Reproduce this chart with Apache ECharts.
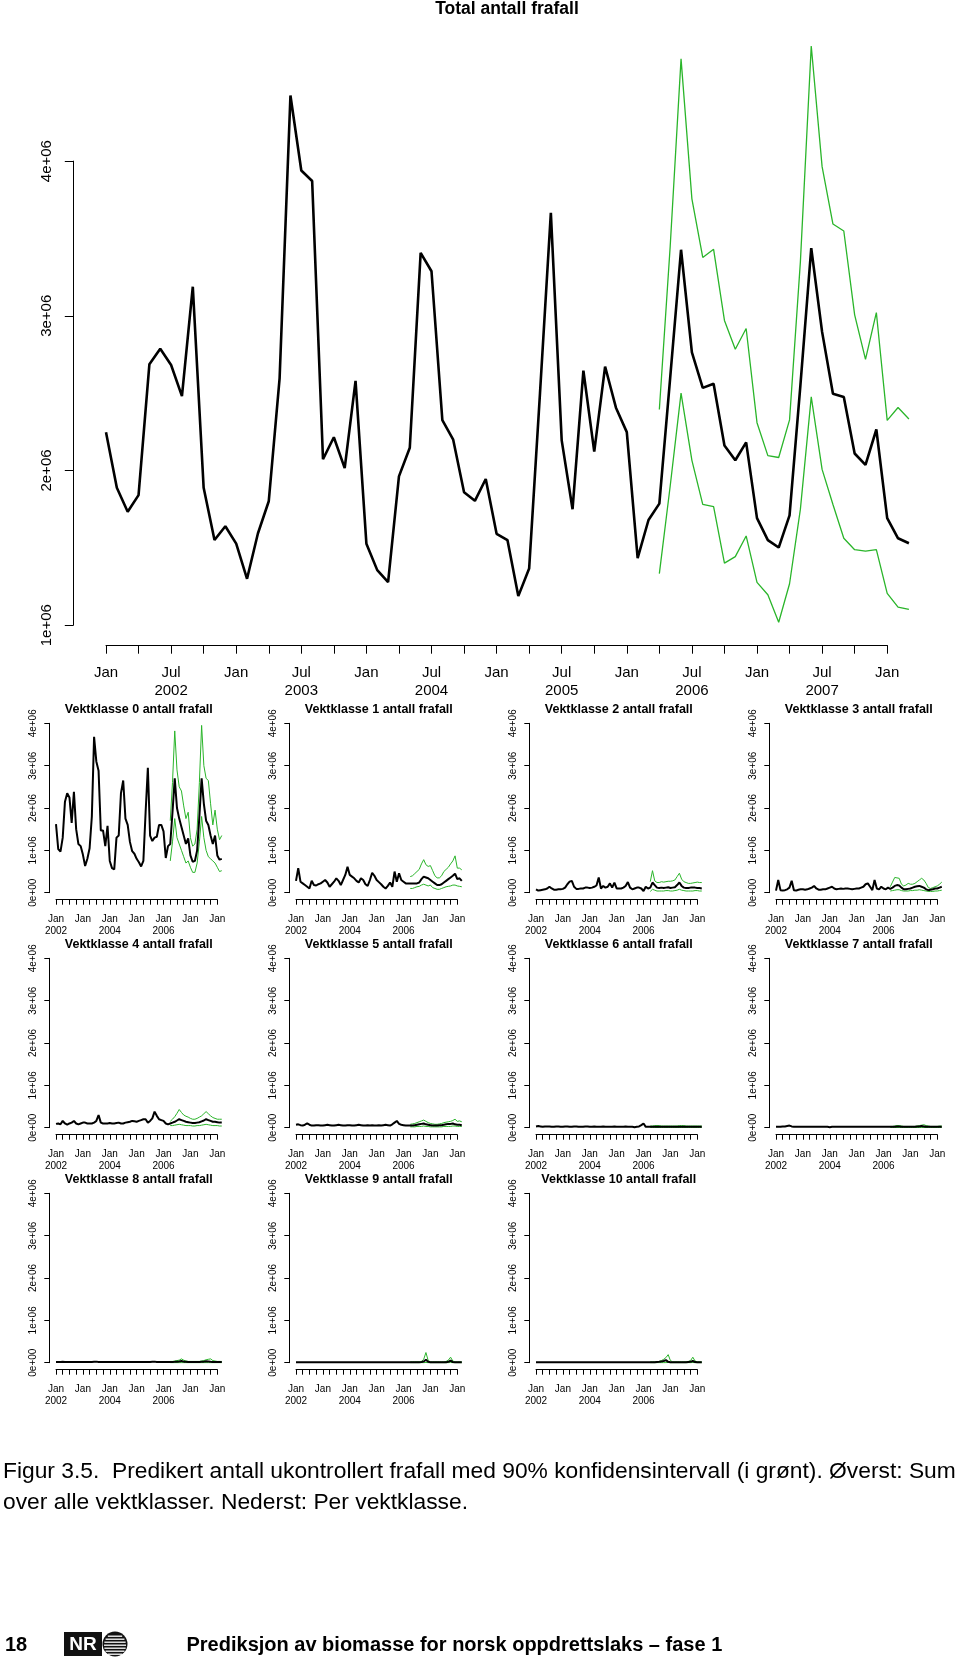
<!DOCTYPE html>
<html><head><meta charset="utf-8">
<script src="https://cdn.jsdelivr.net/npm/echarts@6/dist/echarts.min.js"></script>
<style>html,body{margin:0;padding:0;background:#fff}#c{width:960px;height:1661px}</style>
</head><body><div id="c"></div>
<script>
// ---------- time base: monthly, Jan 2002 .. Mar 2008 (index 0..74) ----------
const startYear = 2002;
const forecastStart = 51; // Apr 2006
const lastMonth = 74;     // Mar 2008
const axisLastMonth = 72; // Jan 2008 (last tick)

// ---------- tick labels ----------
const mainXLabels = ['Jan','Jul\n2002','Jan','Jul\n2003','Jan','Jul\n2004','Jan','Jul\n2005','Jan','Jul\n2006','Jan','Jul\n2007','Jan'];
const mainYLabels = ['1e+06','2e+06','3e+06','4e+06'];
const panelXLabels = ['Jan\n2002','Jan','Jan\n2004','Jan','Jan\n2006','Jan','Jan'];
const panelYLabels = ['0e+00','1e+06','2e+06','3e+06','4e+06'];

// ---------- total (millions) ----------
const totalMean = [2.247,1.888,1.733,1.841,2.687,2.787,2.682,2.481,3.188,1.888,1.551,1.640,
 1.527,1.300,1.593,1.801,2.595,4.424,3.939,3.871,2.073,2.215,2.015,2.579,
 1.527,1.356,1.279,1.962,2.147,3.407,3.288,2.326,2.199,1.859,1.804,1.945,
 1.591,1.550,1.188,1.366,2.50,3.665,2.195,1.750,2.645,2.122,2.672,2.406,
 2.248,1.433,1.680,1.786,2.60,3.427,2.763,2.534,2.561,2.161,2.066,2.182,
 1.692,1.550,1.502,1.710,2.55,3.437,2.896,2.496,2.475,2.110,2.036,2.265,
 1.692,1.562,1.530];
const totalUpper = [2.394,3.45,4.661,3.756,3.377,3.430,2.970,2.784,2.918,2.309,2.096,2.084,2.327,3.35,4.744,3.964,3.593,3.548,3.006,2.718,3.021,2.324,2.407,2.333];
const totalLower = [1.333,1.9,2.50,2.066,1.781,1.766,1.401,1.443,1.577,1.277,1.197,1.019,1.268,1.75,2.476,2.007,1.78,1.562,1.488,1.479,1.488,1.206,1.117,1.102];

// ---------- per weight class (millions) ----------
const vk0Mean = [1.62,1.03,0.97,1.3,2.15,2.35,2.25,1.65,2.38,1.5,1.15,1.1,
 0.9,0.63,0.8,1.05,1.8,3.68,3.1,2.88,1.47,1.47,1.1,1.58,
 0.75,0.58,0.55,1.3,1.35,2.35,2.65,1.75,1.6,1.2,0.98,0.92,
 0.8,0.72,0.62,0.75,1.9,2.95,1.35,1.22,1.3,1.32,1.6,1.6,
 1.45,0.82,1.1,1.15,1.9,2.7,2.0,1.75,1.55,1.35,1.15,1.28,
 0.88,0.73,0.75,1.0,1.8,2.7,2.1,1.7,1.6,1.35,1.15,1.35,
 0.88,0.78,0.8];
const vk0Upper = [1.7,2.6,3.82,2.9,2.5,2.4,2.05,1.75,1.9,1.3,1.1,1.15,1.5,2.6,3.95,3.0,2.7,2.65,2.1,1.6,1.95,1.5,1.25,1.35];
const vk0Lower = [0.75,1.2,1.75,1.3,1.15,1.0,0.85,0.7,0.75,0.6,0.48,0.48,0.7,1.2,1.8,1.3,1.0,0.85,0.8,0.75,0.7,0.6,0.5,0.52];

const vk1Mean = [0.28,0.58,0.26,0.22,0.18,0.14,0.1,0.28,0.18,0.17,0.2,0.22,
 0.26,0.3,0.24,0.14,0.2,0.26,0.34,0.28,0.18,0.3,0.42,0.61,
 0.42,0.38,0.34,0.28,0.24,0.34,0.3,0.2,0.16,0.3,0.47,0.4,
 0.3,0.25,0.2,0.14,0.1,0.16,0.24,0.14,0.5,0.26,0.46,0.3,
 0.26,0.22,0.22,0.22,0.22,0.22,0.22,0.24,0.32,0.38,0.36,0.34,
 0.3,0.26,0.22,0.18,0.18,0.2,0.24,0.28,0.32,0.36,0.4,0.45,
 0.32,0.34,0.28];
const vk1Upper = [0.38,0.4,0.45,0.5,0.55,0.68,0.78,0.66,0.62,0.64,0.52,0.4,0.35,0.35,0.4,0.5,0.55,0.6,0.68,0.75,0.87,0.58,0.58,0.54];
const vk1Lower = [0.1,0.1,0.12,0.14,0.15,0.18,0.2,0.18,0.16,0.18,0.12,0.1,0.08,0.08,0.1,0.12,0.14,0.15,0.16,0.18,0.18,0.16,0.15,0.14];

const vk2Mean = [0.08,0.05,0.06,0.07,0.08,0.1,0.14,0.1,0.07,0.07,0.08,0.08,
 0.09,0.12,0.2,0.26,0.28,0.14,0.09,0.09,0.1,0.1,0.12,0.12,
 0.11,0.12,0.14,0.17,0.36,0.1,0.16,0.12,0.14,0.22,0.12,0.24,
 0.1,0.1,0.1,0.12,0.16,0.25,0.12,0.08,0.1,0.12,0.12,0.1,
 0.04,0.14,0.1,0.12,0.24,0.18,0.12,0.11,0.12,0.11,0.12,0.13,
 0.11,0.12,0.13,0.18,0.24,0.16,0.12,0.11,0.11,0.12,0.12,0.12,
 0.11,0.11,0.1];
const vk2Upper = [0.26,0.52,0.28,0.24,0.24,0.26,0.25,0.26,0.27,0.27,0.28,0.3,0.38,0.46,0.32,0.26,0.24,0.22,0.22,0.23,0.24,0.25,0.24,0.24];
const vk2Lower = [0.03,0.08,0.06,0.04,0.04,0.04,0.04,0.05,0.05,0.04,0.04,0.05,0.06,0.08,0.06,0.05,0.04,0.04,0.04,0.04,0.05,0.05,0.04,0.04];

const vk3Mean = [0.05,0.3,0.06,0.05,0.06,0.08,0.12,0.28,0.06,0.05,0.07,0.08,
 0.08,0.07,0.08,0.1,0.12,0.16,0.1,0.07,0.07,0.08,0.08,0.1,
 0.12,0.14,0.1,0.08,0.09,0.1,0.09,0.1,0.1,0.09,0.08,0.09,
 0.1,0.1,0.12,0.14,0.2,0.22,0.14,0.06,0.3,0.1,0.08,0.14,
 0.1,0.08,0.12,0.09,0.12,0.16,0.18,0.17,0.12,0.08,0.08,0.09,
 0.1,0.12,0.14,0.15,0.16,0.14,0.12,0.08,0.06,0.07,0.08,0.1,
 0.1,0.12,0.14];
const vk3Upper = [0.14,0.25,0.36,0.35,0.34,0.2,0.16,0.18,0.22,0.2,0.2,0.22,0.26,0.3,0.34,0.3,0.22,0.12,0.1,0.12,0.14,0.16,0.2,0.25];
const vk3Lower = [0.04,0.05,0.06,0.07,0.07,0.05,0.04,0.04,0.04,0.05,0.05,0.06,0.06,0.07,0.06,0.05,0.04,0.03,0.03,0.03,0.04,0.04,0.05,0.06];

const vk4Mean = [0.09,0.1,0.08,0.16,0.1,0.07,0.1,0.12,0.16,0.1,0.08,0.1,
 0.12,0.12,0.1,0.1,0.1,0.12,0.16,0.3,0.12,0.1,0.1,0.1,
 0.11,0.1,0.1,0.11,0.12,0.1,0.1,0.12,0.13,0.14,0.16,0.15,
 0.14,0.16,0.18,0.2,0.2,0.12,0.16,0.22,0.38,0.28,0.2,0.18,
 0.16,0.1,0.08,0.1,0.12,0.14,0.17,0.2,0.18,0.16,0.14,0.13,
 0.12,0.11,0.11,0.12,0.13,0.15,0.17,0.2,0.18,0.16,0.14,0.14,
 0.13,0.12,0.12];
const vk4Upper = [0.15,0.2,0.26,0.34,0.43,0.36,0.3,0.27,0.25,0.22,0.2,0.2,0.22,0.25,0.28,0.33,0.38,0.33,0.28,0.24,0.22,0.2,0.2,0.2];
const vk4Lower = [0.05,0.05,0.06,0.07,0.08,0.07,0.06,0.05,0.05,0.05,0.04,0.04,0.05,0.05,0.06,0.07,0.08,0.07,0.06,0.05,0.05,0.05,0.04,0.04];

const vk5Mean = [0.07,0.08,0.06,0.05,0.07,0.1,0.07,0.05,0.05,0.06,0.06,0.05,
 0.05,0.06,0.07,0.06,0.05,0.05,0.06,0.07,0.06,0.05,0.05,0.06,
 0.06,0.05,0.05,0.06,0.07,0.06,0.05,0.05,0.06,0.05,0.06,0.05,
 0.05,0.06,0.05,0.06,0.07,0.06,0.05,0.08,0.12,0.16,0.09,0.07,
 0.06,0.05,0.05,0.05,0.05,0.06,0.07,0.08,0.09,0.1,0.08,0.07,
 0.06,0.05,0.05,0.05,0.06,0.06,0.07,0.08,0.09,0.09,0.1,0.08,
 0.07,0.07,0.06];
const vk5Upper = [0.08,0.09,0.1,0.12,0.14,0.16,0.18,0.15,0.12,0.1,0.09,0.08,0.08,0.09,0.1,0.12,0.13,0.14,0.15,0.17,0.2,0.15,0.16,0.14];
const vk5Lower = [0.02,0.02,0.02,0.03,0.03,0.03,0.04,0.03,0.03,0.02,0.02,0.02,0.02,0.02,0.02,0.03,0.03,0.03,0.03,0.04,0.04,0.03,0.03,0.03];

const vk6Mean = [0.03,0.04,0.03,0.02,0.03,0.03,0.03,0.02,0.02,0.03,0.03,0.02,
 0.02,0.03,0.03,0.02,0.02,0.03,0.03,0.02,0.02,0.02,0.03,0.03,
 0.02,0.02,0.03,0.02,0.02,0.02,0.03,0.02,0.02,0.02,0.02,0.03,
 0.02,0.02,0.02,0.02,0.03,0.02,0.02,0.02,0.01,0.02,0.03,0.06,
 0.1,0.02,0.02,0.02,0.02,0.02,0.02,0.02,0.02,0.02,0.02,0.02,
 0.02,0.02,0.02,0.02,0.02,0.02,0.02,0.02,0.02,0.02,0.02,0.02,
 0.02,0.02,0.02];
const vk6Upper = [0.04,0.04,0.05,0.05,0.05,0.04,0.04,0.04,0.04,0.04,0.04,0.04,0.04,0.05,0.05,0.05,0.04,0.04,0.04,0.04,0.04,0.04,0.04,0.04];
const vk6Lower = [0.005,0.005,0.005,0.005,0.005,0.005,0.005,0.005,0.005,0.005,0.005,0.005,0.005,0.005,0.005,0.005,0.005,0.005,0.005,0.005,0.005,0.005,0.005,0.005];

const vk7Mean = [0.02,0.02,0.02,0.03,0.03,0.04,0.05,0.03,0.02,0.02,0.02,0.02,
 0.02,0.02,0.02,0.02,0.02,0.02,0.02,0.02,0.02,0.02,0.02,0.02,
 0.01,0.02,0.02,0.02,0.02,0.02,0.02,0.02,0.02,0.02,0.02,0.02,
 0.02,0.02,0.02,0.02,0.02,0.02,0.02,0.02,0.02,0.02,0.02,0.02,
 0.02,0.02,0.02,0.02,0.02,0.02,0.03,0.03,0.02,0.02,0.02,0.02,
 0.02,0.02,0.02,0.03,0.03,0.04,0.03,0.02,0.02,0.02,0.02,0.02,
 0.02,0.02,0.02];
const vk7Upper = [0.03,0.03,0.04,0.05,0.05,0.04,0.03,0.03,0.03,0.03,0.03,0.03,0.04,0.05,0.06,0.07,0.05,0.04,0.03,0.03,0.03,0.03,0.04,0.04];
const vk7Lower = [0.005,0.005,0.005,0.005,0.005,0.005,0.005,0.005,0.005,0.005,0.005,0.005,0.005,0.005,0.005,0.005,0.005,0.005,0.005,0.005,0.005,0.005,0.005,0.005];

const vk8Mean = [0.015,0.015,0.015,0.02,0.015,0.015,0.015,0.015,0.015,0.015,0.015,0.015,
 0.015,0.015,0.015,0.015,0.015,0.02,0.025,0.015,0.015,0.015,0.015,0.015,
 0.015,0.015,0.015,0.015,0.015,0.015,0.015,0.015,0.015,0.015,0.015,0.015,
 0.015,0.015,0.015,0.015,0.015,0.015,0.015,0.02,0.025,0.015,0.015,0.015,
 0.015,0.015,0.015,0.015,0.015,0.02,0.025,0.03,0.04,0.025,0.02,0.015,
 0.015,0.015,0.015,0.015,0.015,0.02,0.025,0.035,0.03,0.02,0.015,0.015,
 0.015,0.015,0.015];
const vk8Upper = [0.03,0.03,0.04,0.05,0.06,0.09,0.06,0.04,0.03,0.03,0.03,0.03,0.03,0.03,0.04,0.05,0.07,0.08,0.09,0.05,0.04,0.03,0.03,0.03];
const vk8Lower = [0.002,0.002,0.002,0.002,0.002,0.002,0.002,0.002,0.002,0.002,0.002,0.002,0.002,0.002,0.002,0.002,0.002,0.002,0.002,0.002,0.002,0.002,0.002,0.002];

const vk9Mean = [0.01,0.01,0.01,0.01,0.01,0.01,0.01,0.01,0.01,0.01,0.01,0.01,
 0.01,0.01,0.01,0.01,0.01,0.01,0.01,0.01,0.01,0.01,0.01,0.01,
 0.01,0.01,0.01,0.01,0.01,0.01,0.01,0.01,0.01,0.01,0.01,0.01,
 0.01,0.01,0.01,0.01,0.01,0.01,0.01,0.01,0.01,0.01,0.01,0.01,
 0.01,0.01,0.01,0.01,0.01,0.01,0.01,0.01,0.015,0.03,0.07,0.02,
 0.01,0.01,0.01,0.01,0.01,0.01,0.01,0.01,0.02,0.05,0.015,0.01,
 0.01,0.01,0.01];
const vk9Upper = [0.02,0.02,0.02,0.02,0.02,0.03,0.08,0.24,0.05,0.02,0.02,0.02,0.02,0.02,0.02,0.02,0.03,0.06,0.13,0.04,0.02,0.02,0.02,0.02];
const vk9Lower = [0.002,0.002,0.002,0.002,0.002,0.002,0.002,0.005,0.002,0.002,0.002,0.002,0.002,0.002,0.002,0.002,0.002,0.002,0.005,0.002,0.002,0.002,0.002,0.002];

const vk10Mean = [0.01,0.01,0.01,0.01,0.01,0.01,0.01,0.01,0.01,0.01,0.01,0.01,
 0.01,0.01,0.01,0.01,0.01,0.01,0.01,0.01,0.01,0.01,0.01,0.01,
 0.01,0.01,0.01,0.01,0.01,0.01,0.01,0.01,0.01,0.01,0.01,0.01,
 0.01,0.01,0.01,0.01,0.01,0.01,0.01,0.01,0.01,0.01,0.01,0.01,
 0.01,0.01,0.01,0.01,0.01,0.01,0.015,0.02,0.03,0.04,0.06,0.02,
 0.01,0.01,0.01,0.01,0.01,0.01,0.01,0.01,0.015,0.02,0.04,0.015,
 0.01,0.01,0.01];
const vk10Upper = [0.02,0.02,0.02,0.02,0.03,0.05,0.08,0.12,0.19,0.05,0.02,0.02,0.02,0.02,0.02,0.02,0.02,0.03,0.05,0.13,0.04,0.02,0.02,0.02];
const vk10Lower = [0.002,0.002,0.002,0.002,0.002,0.002,0.002,0.002,0.005,0.002,0.002,0.002,0.002,0.002,0.002,0.002,0.002,0.002,0.002,0.005,0.002,0.002,0.002,0.002];

const panelTitles = ['Vektklasse 0 antall frafall','Vektklasse 1 antall frafall','Vektklasse 2 antall frafall','Vektklasse 3 antall frafall',
 'Vektklasse 4 antall frafall','Vektklasse 5 antall frafall','Vektklasse 6 antall frafall','Vektklasse 7 antall frafall',
 'Vektklasse 8 antall frafall','Vektklasse 9 antall frafall','Vektklasse 10 antall frafall'];
const panelMeans = [vk0Mean,vk1Mean,vk2Mean,vk3Mean,vk4Mean,vk5Mean,vk6Mean,vk7Mean,vk8Mean,vk9Mean,vk10Mean];
const panelUppers = [vk0Upper,vk1Upper,vk2Upper,vk3Upper,vk4Upper,vk5Upper,vk6Upper,vk7Upper,vk8Upper,vk9Upper,vk10Upper];
const panelLowers = [vk0Lower,vk1Lower,vk2Lower,vk3Lower,vk4Lower,vk5Lower,vk6Lower,vk7Lower,vk8Lower,vk9Lower,vk10Lower];

// ---------- build ----------
const FONT = "'Liberation Sans', Arial, Helvetica, sans-serif";
const GREEN = '#2ab52a';
const pts = (vals, start) => vals.map((v, i) => [start + i, v]);

const grids = [], xAxes = [], yAxes = [], series = [], graphics = [];

// Adds a plot: one grid carrying the visible R-style axes (ticks Jan 2002..Jan 2008),
// and one grid with hidden axes (same scale, extended to Mar 2008) carrying the lines.
function addPlot(cfg) {
  const pxPerMonth = cfg.width / axisLastMonth;
  const gAxis = grids.length;
  grids.push({left: cfg.left, top: cfg.top, width: cfg.width, height: cfg.height});
  xAxes.push({type: 'value', gridIndex: gAxis, min: 0, max: axisLastMonth, interval: 3, offset: cfg.xOffset,
    axisLine: {show: true, onZero: false, lineStyle: {color: '#000', width: 1}},
    axisTick: {show: true, length: cfg.tick, lineStyle: {color: '#000', width: 1}},
    splitLine: {show: false},
    axisLabel: {fontFamily: FONT, fontSize: cfg.fs, color: '#000', margin: cfg.xMargin, lineHeight: cfg.lh,
      formatter: cfg.xFmt}});
  yAxes.push({type: 'value', gridIndex: gAxis, min: cfg.yMin, max: cfg.yMax, interval: 1, offset: cfg.yOffset,
    axisLine: {show: true, onZero: false, lineStyle: {color: '#000', width: 1}},
    axisTick: {show: true, length: cfg.tick, lineStyle: {color: '#000', width: 1}},
    splitLine: {show: false},
    axisLabel: {fontFamily: FONT, fontSize: cfg.fs, color: '#000', rotate: 90, margin: cfg.yMargin,
      formatter: cfg.yFmt}});
  const gData = grids.length;
  grids.push({left: cfg.left, top: cfg.top, width: pxPerMonth * lastMonth, height: cfg.height});
  xAxes.push({type: 'value', gridIndex: gData, min: 0, max: lastMonth, show: false, splitLine: {show: false}});
  yAxes.push({type: 'value', gridIndex: gData, min: cfg.yMin, max: cfg.yMax, show: false, splitLine: {show: false}});
  const line = (data, color, width, z) => series.push({type: 'line', xAxisIndex: gData, yAxisIndex: gData, data: data,
    symbol: 'none', clip: false, silent: true, lineStyle: {color: color, width: width}, z: z});
  line(pts(cfg.mean, 0), '#000', cfg.lwMean, 3);
  line(pts(cfg.upper, forecastStart), GREEN, cfg.lwCI, 2);
  line(pts(cfg.lower, forecastStart), GREEN, cfg.lwCI, 2);
}

// main chart
addPlot({left: 106, top: 161.1, width: 781.2, height: 464.1, yMin: 1, yMax: 4,
  xOffset: 20, yOffset: 32.7, tick: 8.5, fs: 15, xMargin: 18.5, lh: 18, yMargin: 19,
  xFmt: v => (Math.round(v) % 6 === 0 ? mainXLabels[Math.round(v) / 6] : ''),
  yFmt: v => mainYLabels[Math.round(v) - 1],
  mean: totalMean, upper: totalUpper, lower: totalLower, lwMean: 2.6, lwCI: 1.3});
graphics.push({type: 'text', x: 507, y: 9, style: {text: 'Total antall frafall', font: 'bold 17.5px ' + FONT,
  fill: '#000', textAlign: 'center', textVerticalAlign: 'middle'}});

// small panels
for (let p = 0; p < panelTitles.length; p++) {
  const row = Math.floor(p / 4), col = p % 4;
  addPlot({left: 56 + 240 * col, top: 723.3 + 235 * row, width: 161.3, height: 169.4, yMin: 0, yMax: 4,
    xOffset: 7, yOffset: 6.7, tick: 5, fs: 10, xMargin: 14, lh: 12, yMargin: 11,
    xFmt: v => (Math.round(v) % 12 === 0 ? panelXLabels[Math.round(v) / 12] : ''),
    yFmt: v => panelYLabels[Math.round(v)],
    mean: panelMeans[p], upper: panelUppers[p], lower: panelLowers[p], lwMean: 2, lwCI: 1});
  graphics.push({type: 'text', x: 138.8 + 240 * col, y: 710 + 235 * row, style: {text: panelTitles[p],
    font: 'bold 12.5px ' + FONT, fill: '#000', textAlign: 'center', textVerticalAlign: 'middle'}});
}

// caption + footer
graphics.push({type: 'text', x: 3, y: 1472, style: {text: 'Figur 3.5.  Predikert antall ukontrollert frafall med 90% konfidensintervall (i grønt). Øverst: Sum',
  font: '22.8px ' + FONT, fill: '#000', textAlign: 'left', textVerticalAlign: 'middle'}});
graphics.push({type: 'text', x: 3, y: 1503, style: {text: 'over alle vektklasser. Nederst: Per vektklasse.',
  font: '22.8px ' + FONT, fill: '#000', textAlign: 'left', textVerticalAlign: 'middle'}});
graphics.push({type: 'text', x: 5, y: 1645, style: {text: '18', font: 'bold 20px ' + FONT, fill: '#000',
  textAlign: 'left', textVerticalAlign: 'middle'}});
graphics.push({type: 'text', x: 186.5, y: 1645, style: {text: 'Prediksjon av biomasse for norsk oppdrettslaks – fase 1',
  font: 'bold 20px ' + FONT, fill: '#000', textAlign: 'left', textVerticalAlign: 'middle'}});
// logo
graphics.push({type: 'rect', shape: {x: 64, y: 1632, width: 38, height: 24}, style: {fill: '#111'}});
graphics.push({type: 'text', x: 83, y: 1644.5, style: {text: 'NR', font: 'bold 19px ' + FONT, fill: '#fff',
  textAlign: 'center', textVerticalAlign: 'middle'}});
graphics.push({type: 'circle', shape: {cx: 115, cy: 1644, r: 12.5}, style: {fill: '#111'}});
[-9, -6, -3, 0, 3, 6, 9].forEach(d => {
  const hw = Math.sqrt(Math.max(0, 12.5 * 12.5 - d * d)) - 1.5;
  graphics.push({type: 'line', shape: {x1: 115 - hw, y1: 1644 + d + 1.2, x2: 115 + hw, y2: 1644 + d + 1.2},
    style: {stroke: '#fff', lineWidth: 1.3}});
});

const chart = echarts.init(document.getElementById('c'), null, {renderer: 'canvas', width: 960, height: 1661});
chart.setOption({
  animation: false,
  backgroundColor: '#fff',
  grid: grids, xAxis: xAxes, yAxis: yAxes, series: series,
  graphic: {elements: graphics}
});
</script></body></html>
